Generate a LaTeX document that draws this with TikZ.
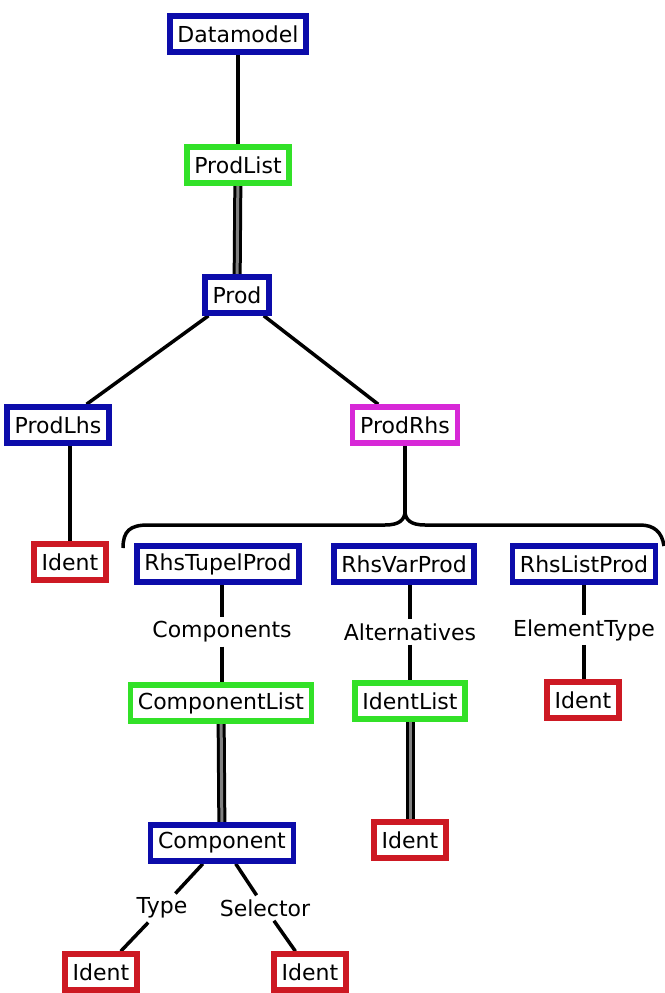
\documentclass[tikz,border=0pt]{standalone}
\usepackage{fontspec}
\setmainfont{DejaVu Sans}
\usetikzlibrary{backgrounds}
\definecolor{nodeblue}{RGB}{12,12,170}
\definecolor{nodegreen}{RGB}{50,225,40}
\definecolor{nodered}{RGB}{205,25,35}
\definecolor{nodepink}{RGB}{215,40,215}
\begin{document}
\begin{tikzpicture}[x=1pt,y=-1pt,
    box/.style={draw, line width=5.5pt, fill=white, inner xsep=7.5pt, inner ysep=0pt,
      minimum height=36pt, font=\fontsize{22}{24}\selectfont},
    bluebox/.style={box, draw=nodeblue},
    greenbox/.style={box, draw=nodegreen},
    redbox/.style={box, draw=nodered},
    pinkbox/.style={box, draw=nodepink},
    lbl/.style={inner sep=4pt, font=\fontsize{22}{24}\selectfont},
    edge/.style={line width=3.5pt},
    dbl/.style={line width=3pt, double=gray, double distance=3pt}]
    \useasboundingbox (0,0) rectangle (664,993);

    % Top of the tree
    \node[bluebox] (datamodel) at (238,34) {Datamodel};
    \node[greenbox] (prodlist) at (238,165) {ProdList};
    \node[bluebox] (prod) at (237,295) {Prod};

    % Left and right hand side
    \node[bluebox] (prodlhs) at (58,425) {ProdLhs};
    \node[pinkbox] (prodrhs) at (405,425) {ProdRhs};
    \node[redbox] (identlhs) at (70,562) {Ident};

    % The three kinds of right hand side
    \node[bluebox] (tupel) at (218,564) {RhsTupelProd};
    \node[bluebox] (var) at (404,564) {RhsVarProd};
    \node[bluebox] (list) at (584,564) {RhsListProd};

    \node[lbl] (components) at (222,632) {Components};
    \node[lbl] (alternatives) at (410,632) {Alternatives};
    \node[lbl] (elemtype) at (584,630) {ElementType};

    \node[greenbox] (complist) at (221,703) {ComponentList};
    \node[greenbox] (identlist) at (410,701) {IdentList};
    \node[redbox] (identelem) at (583,700) {Ident};

    \node[bluebox] (component) at (222,843) {Component};
    \node[redbox] (identvar) at (410,840) {Ident};

    % Component fields
    \node[lbl] (type) at (162,908) {Type};
    \node[lbl] (selector) at (265,908) {Selector};
    \node[redbox] (identtype) at (101,972) {Ident};
    \node[redbox] (identsel) at (310,972) {Ident};

    % Brace under ProdRhs
    \coordinate (braceL) at (123,548);
    \coordinate (braceR) at (664,546);
    \coordinate (bracetip) at (405,511);

    % Connectors
    \begin{scope}[on background layer]
      \draw[edge] (datamodel) -- (prodlist);
      \draw[dbl] (prodlist) -- (prod);
      \draw[edge] (prod) -- (prodlhs);
      \draw[edge] (prod) -- (prodrhs);
      \draw[edge] (prodlhs.south -| identlhs) -- (identlhs);
      \draw[edge] (prodrhs) -- (bracetip);
      \draw[edge] (braceL) .. controls (123,531) and (130,525) .. (148,525)
        -- (385,525) .. controls (399,525) and (405,520) .. (bracetip)
        .. controls (405,520) and (411,525) .. (425,525)
        -- (640,525) .. controls (654,525) and (662,532) .. (braceR);
      \draw[edge] (tupel.south -| components) -- (components) -- (components |- complist.north);
      \draw[edge] (var.south -| alternatives) -- (alternatives) -- (identlist);
      \draw[edge] (list) -- (elemtype) -- (identelem.north -| elemtype);
      \draw[dbl] (complist) -- (component);
      \draw[dbl] (identlist) -- (identvar);
      \draw[edge] (component) -- (type) -- (identtype);
      \draw[edge] (component) -- (selector) -- (identsel);
    \end{scope}
  \end{tikzpicture}
\end{document}
